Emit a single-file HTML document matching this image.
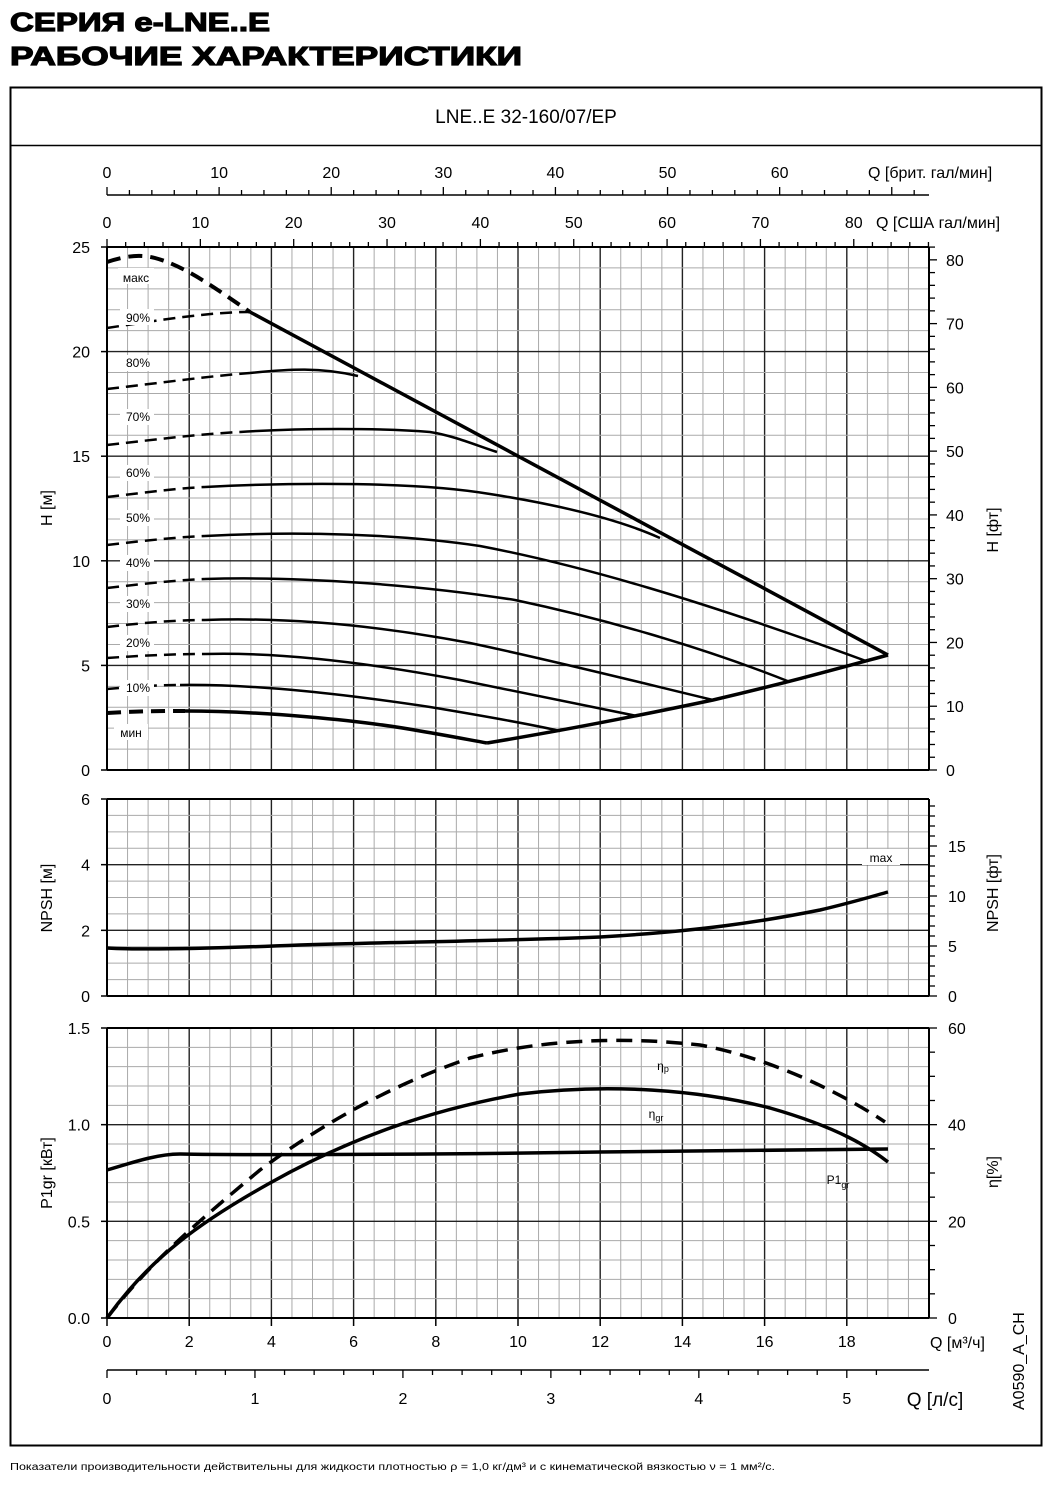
<!DOCTYPE html>
<html><head><meta charset="utf-8"><style>
body{margin:0;background:#fff;width:1057px;height:1481px;overflow:hidden;font-family:"Liberation Sans",sans-serif}
svg text{font-family:"Liberation Sans","DejaVu Sans",sans-serif}
</style></head><body>
<svg id="s" width="1057" height="1481" xmlns="http://www.w3.org/2000/svg">
<text x="10" y="31" font-size="26" font-weight="bold" fill="#000" stroke="#000" stroke-width="1.2" textLength="260" lengthAdjust="spacingAndGlyphs">СЕРИЯ e-LNE..E</text>
<text x="10" y="65" font-size="26" font-weight="bold" fill="#000" stroke="#000" stroke-width="1.2" textLength="512" lengthAdjust="spacingAndGlyphs">РАБОЧИЕ ХАРАКТЕРИСТИКИ</text>
<rect x="10.5" y="87.5" width="1031" height="1358" fill="none" stroke="#000" stroke-width="2"/>
<line x1="10" y1="145.5" x2="1042" y2="145.5" stroke="#000" stroke-width="1.5"/>
<text x="526" y="123" font-size="19" text-anchor="middle">LNE..E 32-160/07/EP</text>
<g id="grid"></g>
<g id="ax" font-size="16" fill="#000"></g>
<g fill="none" stroke="#000" stroke-linejoin="round" stroke-linecap="butt">
<path d="M107,262 C125,256 140,254 155,258 C185,266 215,288 250,312" stroke-width="4" stroke-dasharray="14,8"/>
<path d="M250,312 L888,655" stroke-width="3.5"/>
<path d="M107,328 C160,320 210,312 250,312" stroke-width="2.5" stroke-dasharray="12,7"/>
<path d="M107,389 C160,383 210,376 250,373" stroke-width="2.5" stroke-dasharray="12,7"/>
<path d="M250,373 C290,369 320,367 358,376" stroke-width="2.5"/>
<path d="M107,445 C160,439 200,434 240,432" stroke-width="2.5" stroke-dasharray="12,7"/>
<path d="M240,432 C300,428 380,428 430,432 C455,436 475,445 497,452" stroke-width="2.5"/>
<path d="M107,497 C150,492 180,488 205,487" stroke-width="2.5" stroke-dasharray="12,7"/>
<path d="M205,487 C300,482 420,482 490,494 C560,505 620,520 660,538" stroke-width="2.5"/>
<path d="M107,545 C150,540 180,537 205,536" stroke-width="2.5" stroke-dasharray="12,7"/>
<path d="M205,536 C300,531 400,534 480,546 C580,565 700,600 866,661" stroke-width="2.5"/>
<path d="M107,588 C150,583 180,580 205,579" stroke-width="2.5" stroke-dasharray="12,7"/>
<path d="M205,579 C300,576 420,585 515,600 C600,618 700,646 790,682" stroke-width="2.5"/>
<path d="M107,627 C150,622 180,620 205,620" stroke-width="2.5" stroke-dasharray="12,7"/>
<path d="M205,620 C290,617 380,626 470,643 C560,662 650,685 713,700" stroke-width="2.5"/>
<path d="M107,658 C150,655 180,654 205,654" stroke-width="2.5" stroke-dasharray="12,7"/>
<path d="M205,654 C280,652 370,663 460,680 C540,696 600,708 637,716" stroke-width="2.5"/>
<path d="M107,689 C140,686 160,685 180,685" stroke-width="2.5" stroke-dasharray="12,7"/>
<path d="M180,685 C260,684 350,695 430,707 C490,717 530,724 560,731" stroke-width="2.5"/>
<path d="M107,713 C140,711 165,711 185,711" stroke-width="4" stroke-dasharray="14,8"/>
<path d="M185,711 C260,711 360,720 420,731 C450,736 470,740 487,743" stroke-width="3.5"/>
<path d="M487,743 C560,731 637,716 713,700 C790,682 840,668 888,655" stroke-width="3.5"/>
<path d="M107,948 C140,950 200,949 300,945 C400,942 500,941 600,937 C700,931 760,922 820,910 C850,903 870,897 888,892" stroke-width="3.5"/>
<path d="M107,1318 C150,1262 200,1220 260,1170 C330,1118 400,1082 470,1058 C540,1040 620,1036 700,1045 C770,1058 840,1092 885,1122" stroke-width="3.5" stroke-dasharray="16,9"/>
<path d="M107,1318 C150,1258 200,1222 270,1183 C350,1138 430,1110 520,1094 C610,1083 700,1090 770,1108 C840,1128 870,1148 888,1162" stroke-width="3.5"/>
<path d="M107,1170 C140,1160 160,1154 180,1154 C230,1155 400,1155 600,1152 L888,1149" stroke-width="3.5"/>
</g>
<g font-size="12" text-anchor="middle">
<rect x="118" y="268" width="36" height="16" fill="#fff"/><text x="136" y="282">макс</text>
<rect x="120" y="309" width="34" height="16" fill="#fff"/><text x="138" y="322">90%</text>
<rect x="120" y="355" width="34" height="16" fill="#fff"/><text x="138" y="367">80%</text>
<rect x="120" y="409" width="34" height="16" fill="#fff"/><text x="138" y="421">70%</text>
<rect x="120" y="465" width="34" height="16" fill="#fff"/><text x="138" y="477">60%</text>
<rect x="120" y="510" width="34" height="16" fill="#fff"/><text x="138" y="522">50%</text>
<rect x="120" y="555" width="34" height="16" fill="#fff"/><text x="138" y="567">40%</text>
<rect x="120" y="596" width="34" height="16" fill="#fff"/><text x="138" y="608">30%</text>
<rect x="120" y="635" width="34" height="16" fill="#fff"/><text x="138" y="647">20%</text>
<rect x="120" y="680" width="34" height="16" fill="#fff"/><text x="138" y="692">10%</text>
<rect x="114" y="724" width="34" height="16" fill="#fff"/><text x="131" y="737">мин</text>
<rect x="862" y="849" width="38" height="16" fill="#fff"/><text x="881" y="862">max</text>
<text x="663" y="1070">η<tspan font-size="9" dy="2">p</tspan></text>
<text x="656" y="1118">η<tspan font-size="9" dy="3">gr</tspan></text>
<text x="838" y="1184">P1<tspan font-size="9" dy="4">gr</tspan></text>
</g>
<text x="1024" y="1410" font-size="16" transform="rotate(-90 1024 1410)">A0590_A_CH</text>
<text x="10" y="1470" font-size="10" textLength="765" lengthAdjust="spacingAndGlyphs">Показатели производительности действительны для жидкости плотностью ρ = 1,0 кг/дм³ и с кинематической вязкостью ν = 1 мм²/с.</text>
</svg>
<script>
var NS="http://www.w3.org/2000/svg",g=document.getElementById("grid"),ax=document.getElementById("ax");
function L(p,x1,y1,x2,y2,c,w){var l=document.createElementNS(NS,"line");l.setAttribute("x1",x1);l.setAttribute("y1",y1);l.setAttribute("x2",x2);l.setAttribute("y2",y2);l.setAttribute("stroke",c);l.setAttribute("stroke-width",w);p.appendChild(l);}
function T(x,y,s,a,sz,rot){var t=document.createElementNS(NS,"text");t.setAttribute("x",x);t.setAttribute("y",y);t.setAttribute("text-anchor",a||"middle");if(sz)t.setAttribute("font-size",sz);if(rot)t.setAttribute("transform","rotate(-90 "+x+" "+y+")");t.textContent=s;ax.appendChild(t);}
var X0=107,PX=41.1,XR=929;
function qx(q){return X0+q*PX;}
var panels=[[247,770,25,1,5],[799,996,6,0.5,2],[1028,1318,1.5,0.1,0.5]];
panels.forEach(function(p){var yt=p[0],yb=p[1],max=p[2],mn=p[3],mj=p[4],s=(yb-yt)/max;
 for(var q=0.5;q<20;q+=0.5){var maj=Math.abs(q/2-Math.round(q/2))<1e-6;L(g,qx(q),yt,qx(q),yb,maj?"#222":"#aaa",maj?1.4:1);}
 var n=Math.round(max/mn);for(var i=1;i<n;i++){var v=i*mn,maj=Math.abs(v/mj-Math.round(v/mj))<1e-6;var y=yb-v*s;L(g,X0,y,XR,y,maj?"#222":"#aaa",maj?1.4:1);}
 L(g,X0,yt,XR,yt,"#000",2);L(g,X0,yb,XR,yb,"#000",2);L(g,X0,yt,X0,yb,"#000",2);L(g,XR,yt,XR,yb,"#000",2);
 for(var i=0;i<=Math.round(max/mj);i++){var y=yb-i*mj*s;L(g,X0-6,y,X0,y,"#000",1.5);}
});
for(var h=0;h<=25;h+=5)T(90,776-h*20.92,""+h,"end");
for(var h=0;h<=6;h+=2)T(90,1002-h*32.83,""+h,"end");
["0.0","0.5","1.0","1.5"].forEach(function(s,i){T(90,1324-i*96.67,s,"end");});
T(52,508,"H [м]","middle",16,1);T(52,898,"NPSH [м]","middle",16,1);T(52,1173,"P1gr [кВт]","middle",16,1);
var fs=6.377;for(var f=0;f<=82;f+=2){var y=770-f*fs;L(g,XR,y,XR+(f%10==0?8:6),y,"#000",1.3);if(f%10==0)T(946,y+6,""+f,"start");}
var fn=10.0;for(var f=0;f<=19;f++){var y=996-f*fn;L(g,XR,y,XR+(f%5==0?8:6),y,"#000",1.3);if(f%5==0)T(948,y+6,""+f,"start");}
var es=290/60;for(var e=0;e<=60;e+=5){var y=1318-e*es;L(g,XR,y,XR+(e%20==0?8:6),y,"#000",1.3);if(e%20==0)T(948,y+6,""+e,"start");}
T(998,530,"H [фт]","middle",16,1);T(998,893,"NPSH [фт]","middle",16,1);T(998,1172,"η[%]","middle",16,1);
for(var q=0;q<=19;q+=2){L(g,qx(q),1318,qx(q),1326,"#000",1.5);T(qx(q),1347,""+q);}
T(930,1348,"Q [м³/ч]","start");
L(g,X0,1370,XR,1370,"#000",1.5);
for(var v=0;v<=5.3;v+=0.2){var x=X0+v*3.6*PX;if(x>XR)break;var m=Math.abs(v-Math.round(v))<1e-6;L(g,x,1370,x,m?1378:1375,"#000",1.3);if(m)T(x,1404,""+Math.round(v));}
T(935,1406,"Q [л/с]","middle",19);
L(g,X0,195,XR,195,"#000",1.5);
for(var v=0;v<=72;v+=2){var x=X0+v*0.27277*PX;if(x>XR)break;L(g,x,195,x,v%10==0?187:190,"#000",1.3);if(v%10==0&&v<=60)T(x,178,""+v);}
T(868,178,"Q [брит. гал/мин]","start");
for(var v=0;v<=88;v+=2){var x=X0+v*0.22712*PX;if(x>XR)break;L(g,x,247,x,v%10==0?239:242,"#000",1.3);if(v%10==0&&v<=80)T(x,228,""+v);}
T(876,228,"Q [США гал/мин]","start");
</script>
</body></html>
